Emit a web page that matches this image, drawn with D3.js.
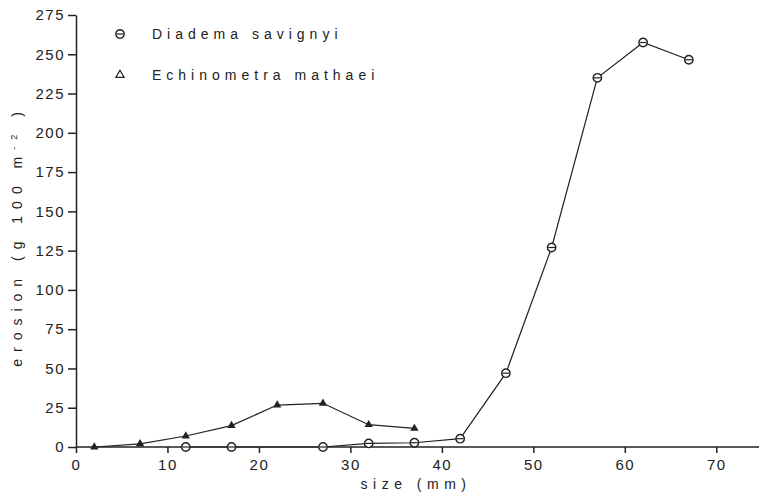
<!DOCTYPE html>
<html>
<head>
<meta charset="utf-8">
<script src="https://cdn.jsdelivr.net/npm/d3@7"></script>
<style>
  body { margin: 0; background: #fff; }
  svg text { font-family: "Liberation Sans", Arial, sans-serif; fill: #222; }
</style>
</head>
<body>
<div id="chart"></div>
<script>
// sizes in mm
var diademaSize = [12, 17, 27, 32, 37, 42, 47, 52, 57, 62, 67];
var diademaErosion = [0, 0, 0, 2.3, 2.7, 5.3, 47, 127, 235, 257.5, 246.5];
var echinoSize = [2, 7, 12, 17, 22, 27, 32, 37];
var echinoErosion = [0, 2, 7, 13.6, 26.7, 27.8, 14.2, 11.8];
var xTicks = [0, 10, 20, 30, 40, 50, 60, 70];
var yTicks = [0, 25, 50, 75, 100, 125, 150, 175, 200, 225, 250, 275];

var width = 759, height = 495;
var svg = d3.select("#chart").append("svg")
    .attr("width", width)
    .attr("height", height);

var x = d3.scaleLinear().domain([0, 75]).range([76, 762]);
var y = d3.scaleLinear().domain([0, 275]).range([447, 15]);

// axes
var xAxis = svg.append("g")
    .attr("transform", "translate(0," + y(0) + ")")
    .call(d3.axisBottom(x).tickValues(xTicks).tickSize(6).tickSizeOuter(0).tickPadding(6));
xAxis.select(".domain").attr("d", "M" + x(0) + ",0H" + width);

var yAxis = svg.append("g")
    .attr("transform", "translate(" + x(0) + ",0)")
    .call(d3.axisLeft(y).tickValues(yTicks).tickSize(8).tickSizeOuter(0).tickPadding(3));

svg.selectAll(".tick text")
    .style("font-size", "15px")
    .style("letter-spacing", "1.5px");
svg.selectAll(".domain, .tick line")
    .attr("stroke", "#222")
    .attr("stroke-width", 1.5);

// axis titles
svg.append("text")
    .attr("x", 416).attr("y", 489)
    .attr("text-anchor", "middle")
    .style("font-size", "14px")
    .style("letter-spacing", "5.5px")
    .text("size  (mm)");

var yt = svg.append("text")
    .attr("transform", "translate(22," + 236 + ") rotate(-90)")
    .attr("text-anchor", "middle")
    .style("font-size", "14px")
    .style("letter-spacing", "7px");
yt.append("tspan").text("erosion (g 100 m");
yt.append("tspan").attr("dy", -5).style("font-size", "9px").text("-2");
yt.append("tspan").attr("dy", 5).text(" )");

var line = d3.line().x(function(d) { return x(d[0]); }).y(function(d) { return y(d[1]); });

var diadema = d3.zip(diademaSize, diademaErosion);
var echino = d3.zip(echinoSize, echinoErosion);

svg.append("path").datum(echino)
    .attr("d", line).attr("fill", "none").attr("stroke", "#222").attr("stroke-width", 1.2);
svg.append("path").datum(diadema)
    .attr("d", line).attr("fill", "none").attr("stroke", "#222").attr("stroke-width", 1.2);

var tri = d3.symbol().type(d3.symbolTriangle).size(30);

function circleMark(g) {
    g.append("circle").attr("r", 4.2).attr("fill", "#fff")
        .attr("stroke", "#222").attr("stroke-width", 1.4);
    g.append("line").attr("x1", -3.5).attr("x2", 3.5)
        .attr("stroke", "#222").attr("stroke-width", 1.2);
}

svg.selectAll(".echino").data(echino).enter().append("path")
    .attr("class", "echino")
    .attr("transform", function(d) { return "translate(" + x(d[0]) + "," + y(d[1]) + ")"; })
    .attr("d", tri).attr("fill", "#222");

svg.selectAll(".diadema").data(diadema).enter().append("g")
    .attr("class", "diadema")
    .attr("transform", function(d) { return "translate(" + x(d[0]) + "," + y(d[1]) + ")"; })
    .each(function() { circleMark(d3.select(this)); });

// legend
var leg1 = svg.append("g").attr("transform", "translate(120,34)");
circleMark(leg1);
svg.append("text").attr("x", 152).attr("y", 39)
    .style("font-size", "14px").style("letter-spacing", "5px")
    .text("Diadema savignyi");
svg.append("path").attr("transform", "translate(120,75)")
    .attr("d", tri).attr("fill", "none").attr("stroke", "#222").attr("stroke-width", 1.2);
svg.append("text").attr("x", 152).attr("y", 80)
    .style("font-size", "14px").style("letter-spacing", "5px")
    .text("Echinometra mathaei");
</script>
</body>
</html>
